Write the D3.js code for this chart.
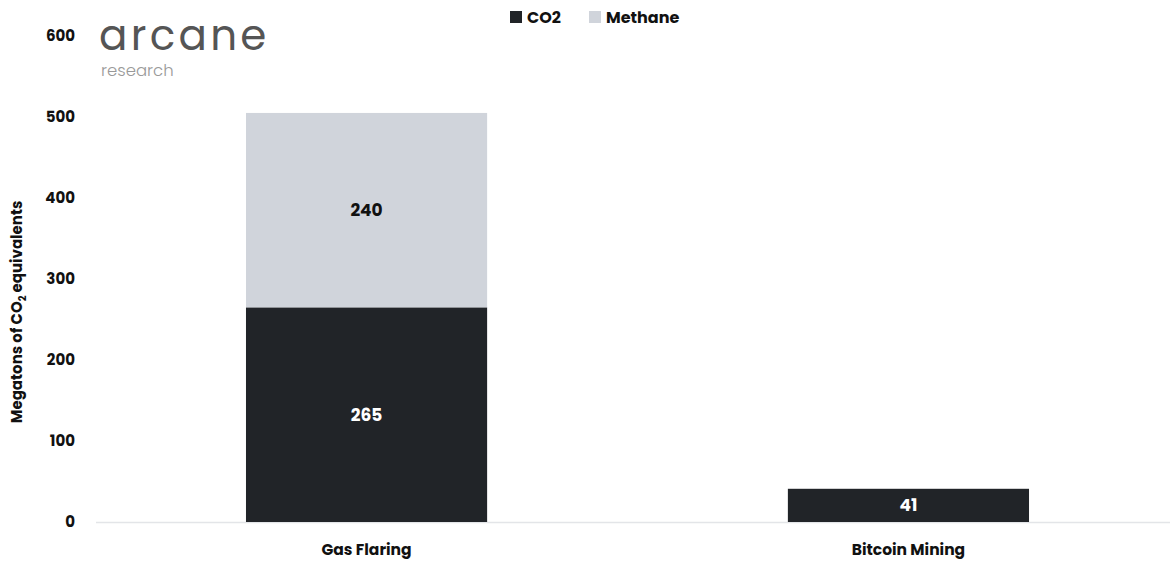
<!DOCTYPE html>
<html><head><meta charset="utf-8">
<script src="https://cdn.jsdelivr.net/npm/d3@7"></script>
<style>body{margin:0;background:#fff}svg{display:block}text{font-family:Poppins,Inter,"Noto Sans",sans-serif}</style>
</head><body><svg id="c" width="1170" height="563"></svg>
<script>
const categories = ["Gas Flaring", "Bitcoin Mining"];
const co2 = [265, 41];
const methane = [240, 0];
const yTicks = [0, 100, 200, 300, 400, 500, 600];
const seriesNames = ["CO2", "Methane"];
const colors = ["#212428", "#d0d4db"];

const svg = d3.select("#c");
const x = d3.scaleBand().domain(categories).range([95.5, 1179.5]).paddingInner(0.555).paddingOuter(0.2777);
const y = d3.scaleLinear().domain([0, 600]).range([522, 36]);

// y tick labels
svg.append("g").selectAll("text").data(yTicks).join("text")
  .attr("x", 75).attr("y", d => y(d)).attr("dy", "0.35em")
  .attr("text-anchor", "end").attr("font-size", 15).attr("font-weight", 700).attr("fill", "#111")
  .text(d => d);

// baseline
svg.append("line").attr("x1", 96).attr("x2", 1170).attr("y1", y(0)+0.5).attr("y2", y(0)+0.5)
  .attr("stroke", "#e3e5e8").attr("stroke-width", 1.5);

const data = categories.map((c, i) => ({cat: c, CO2: co2[i], Methane: methane[i]}));
const stack = d3.stack().keys(seriesNames)(data);
stack.forEach((s, si) => {
  const g = svg.append("g");
  s.forEach(d => {
    const v = d[1] - d[0];
    if (v <= 0) return;
    g.append("rect").attr("x", x(d.data.cat)).attr("width", x.bandwidth())
      .attr("y", y(d[1])).attr("height", y(d[0]) - y(d[1])).attr("fill", colors[si]);
    g.append("text").attr("x", x(d.data.cat) + x.bandwidth()/2).attr("y", (y(d[0]) + y(d[1]))/2)
      .attr("dy", "0.35em").attr("text-anchor", "middle").attr("font-size", 17).attr("font-weight", 700)
      .attr("fill", si === 0 ? "#fff" : "#111").text(v);
  });
});

// x labels
svg.append("g").selectAll("text").data(categories).join("text")
  .attr("x", d => x(d) + x.bandwidth()/2).attr("y", 550).attr("dy", "0.35em")
  .attr("text-anchor", "middle").attr("font-size", 15.5).attr("font-weight", 700).attr("fill", "#111")
  .text(d => d);

// y axis label
const yl = svg.append("text").attr("transform", "translate(22,312) rotate(-90)")
  .attr("text-anchor", "middle").attr("font-size", 15).attr("font-weight", 700).attr("fill", "#111");
yl.append("tspan").text("Megatons of CO");
yl.append("tspan").attr("font-size", 10).attr("dy", 4).text("2");
yl.append("tspan").attr("dy", -4).text(" equivalents");

// legend
const leg = svg.append("g");
const legX = [510, 589];
seriesNames.forEach((n, i) => {
  leg.append("rect").attr("x", legX[i]).attr("y", 11).attr("width", 12).attr("height", 12).attr("fill", colors[i]);
  leg.append("text").attr("x", legX[i] + 17).attr("y", 17).attr("dy", "0.35em")
    .attr("font-size", 16).attr("font-weight", 700).attr("fill", "#111").text(n);
});

// logo
svg.append("text").attr("x", 99).attr("y", 50).attr("font-size", 42).attr("font-weight", 400)
  .attr("fill", "#555").attr("letter-spacing", 3.3).text("arcane");
svg.append("text").attr("x", 101).attr("y", 76).attr("font-size", 16.5).attr("font-weight", 300)
  .attr("fill", "#999").text("research");
</script></body></html>
